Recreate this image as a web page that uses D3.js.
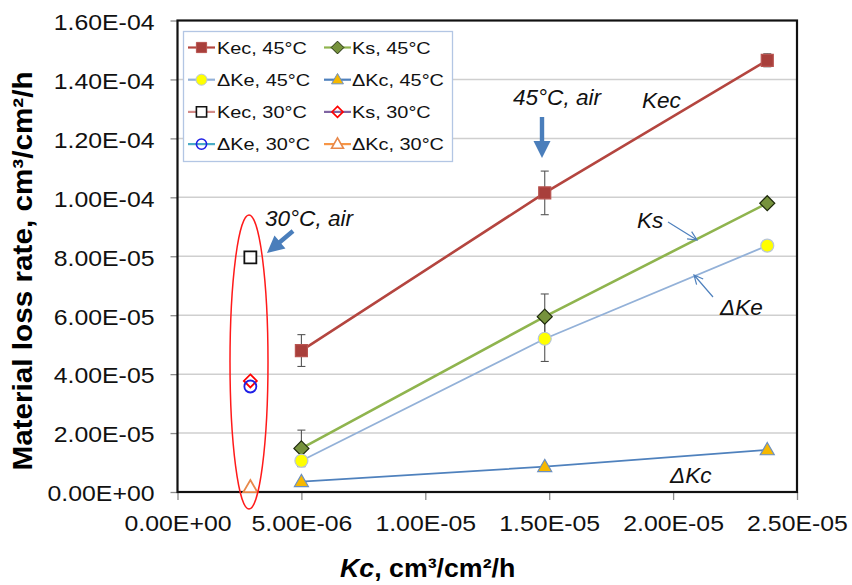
<!DOCTYPE html>
<html><head><meta charset="utf-8">
<script src="https://cdn.jsdelivr.net/npm/d3@7"></script>
<style>html,body{margin:0;padding:0;background:#fff}svg{display:block}text{font-family:"Liberation Sans",Arial,sans-serif}</style>
</head><body>
<svg id="chart" width="852" height="585"></svg>
<script>
// ---------- data ----------
const xTicks = [0, 5e-6, 1e-5, 1.5e-5, 2e-5, 2.5e-5];
const xTickLabels = ["0.00E+00","5.00E-06","1.00E-05","1.50E-05","2.00E-05","2.50E-05"];
const yTicks = [0, 2e-5, 4e-5, 6e-5, 8e-5, 1e-4, 1.2e-4, 1.4e-4, 1.6e-4];
const yTickLabels = ["0.00E+00","2.00E-05","4.00E-05","6.00E-05","8.00E-05","1.00E-04","1.20E-04","1.40E-04","1.60E-04"];

const kc45 = [5.0e-6, 1.482e-5, 2.38e-5];
const kec45 = [4.8e-5, 1.015e-4, 1.465e-4];
const kec45Err = [5.4e-6, 7.4e-6, 2.2e-6];
const ks45 = [1.48e-5, 5.95e-5, 9.8e-5];
const ks45Err = [6.2e-6, 7.7e-6, 0];
const dke45 = [1.06e-5, 5.2e-5, 8.36e-5];
const dke45Err = [0, 7.7e-6, 0];
const dkc45 = [3.5e-6, 8.6e-6, 1.43e-5];

const kc30 = [2.94e-6];
const kec30 = [7.96e-5];
const ks30 = [3.77e-5];
const dke30 = [3.58e-5];
const dkc30 = [1.6e-6];

const legendNames = ["Kec, 45°C","Ks, 45°C","ΔKe, 45°C","ΔKc, 45°C","Kec, 30°C","Ks, 30°C","ΔKe, 30°C","ΔKc, 30°C"];

// ---------- styles ----------
const series = [
  {name:legendNames[0], x:kc45, y:kec45, err:kec45Err, line:"#b4453f", lw:2.6, shape:"square", size:12, fill:"#a83f3b", stroke:"#b85450"},
  {name:legendNames[1], x:kc45, y:ks45, err:ks45Err, line:"#8fb44e", lw:2.6, shape:"diamond", size:15, fill:"#76923c", stroke:"#1e2a0c"},
  {name:legendNames[2], x:kc45, y:dke45, err:dke45Err, line:"#93b1d8", lw:1.8, shape:"circle", size:13, fill:"#ffff00", stroke:"#b8c6d9"},
  {name:legendNames[3], x:kc45, y:dkc45, err:null, line:"#4f81bd", lw:1.8, shape:"triangle", size:14, fill:"#f6b800", stroke:"#6b8fc0"},
  {name:legendNames[4], x:kc30, y:kec30, err:null, line:"#d38b88", lw:2, shape:"square", size:12, fill:"#ffffff", stroke:"#111111"},
  {name:legendNames[5], x:kc30, y:ks30, err:null, line:"#7f64a2", lw:2, shape:"diamond", size:13, fill:"none", stroke:"#ff0000"},
  {name:legendNames[6], x:kc30, y:dke30, err:null, line:"#4bacc6", lw:2, shape:"circle", size:12, fill:"none", stroke:"#1f1fe6"},
  {name:legendNames[7], x:kc30, y:dkc30, err:null, line:"#f79646", lw:2, shape:"triangle", size:14, fill:"#ffffff", stroke:"#e8884a"}
];

const svg = d3.select("#chart");
const L = 177.5, R = 797, T = 20.5, B = 492;
const x = d3.scaleLinear().domain([0, 2.5e-5]).range([L, R]);
const y = d3.scaleLinear().domain([0, 1.6e-4]).range([B, T]);

function txt(g, px, py, str, o) {
  o = o || {};
  const t = g.append("text")
    .attr("transform", `translate(${px},${py}) rotate(${o.rot||0}) scale(${o.sx||1},1)`)
    .attr("font-size", o.size || 16)
    .attr("font-weight", o.weight || "normal")
    .attr("font-style", o.style || "normal")
    .attr("text-anchor", o.anchor || "start")
    .attr("fill", o.fill || "#000");
  if (typeof str === "string") t.text(str);
  else str.forEach(p => t.append("tspan").attr("font-style", p.style || null).attr("font-weight", p.weight || null).text(p.t));
  return t;
}

function markerPath(shape, s) {
  const h = s / 2;
  if (shape === "square") return `M${-h},${-h}H${h}V${h}H${-h}Z`;
  if (shape === "diamond") return `M0,${-h}L${h},0L0,${h}L${-h},0Z`;
  if (shape === "triangle") { const th = s * 0.87; return `M0,${-th*0.6}L${h},${th*0.4}L${-h},${th*0.4}Z`; }
  return d3.path ? (() => { const p = d3.path(); p.arc(0, 0, h, 0, 2*Math.PI); p.closePath(); return p.toString(); })() : "";
}

// ---------- gridlines ----------
svg.append("g").selectAll("line").data(yTicks.slice(1, -1)).join("line")
  .attr("x1", L).attr("x2", R).attr("y1", d => y(d)).attr("y2", d => y(d))
  .attr("stroke", "#cfcfcf").attr("stroke-width", 1.5);

// ---------- axes ----------
const sxTick = 1.155, tickFont = 21.5;
const yAxis = svg.append("g").attr("transform", `translate(${L},0)`)
  .call(d3.axisLeft(y).tickValues(yTicks).tickFormat((d, i) => yTickLabels[i]).tickSize(7).tickSizeOuter(0));
const xAxis = svg.append("g").attr("transform", `translate(0,${B})`)
  .call(d3.axisBottom(x).tickValues(xTicks).tickFormat((d, i) => xTickLabels[i]).tickSize(8).tickSizeOuter(0));
[yAxis, xAxis].forEach(a => {
  a.select(".domain").remove();
  a.selectAll(".tick line").attr("stroke", "#8c8c8c").attr("stroke-width", 1.3);
  a.selectAll(".tick text").attr("font-size", tickFont).attr("fill", "#111")
    .attr("font-family", '"Liberation Sans",Arial,sans-serif');
});
yAxis.selectAll(".tick text").attr("x", -23 / sxTick).attr("dy", "0.41em").attr("transform", `scale(${sxTick},1)`);
xAxis.selectAll(".tick text").attr("y", 39).attr("dy", 0).attr("transform", `scale(${sxTick},1)`);

// plot border
svg.append("rect").attr("x", L).attr("y", T).attr("width", R - L).attr("height", B - T)
  .attr("fill", "none").attr("stroke", "#111").attr("stroke-width", 2.2);

// ---------- series ----------
const plot = svg.append("g");
series.forEach(s => {
  const pts = s.x.map((xv, i) => [xv, s.y[i], s.err ? s.err[i] : 0]);
  if (pts.length > 1) {
    plot.append("path").datum(pts)
      .attr("d", d3.line().x(d => x(d[0])).y(d => y(d[1])))
      .attr("fill", "none").attr("stroke", s.line).attr("stroke-width", s.lw);
  }
});
// error bars
series.forEach(s => {
  if (!s.err) return;
  s.x.forEach((xv, i) => {
    const e = s.err[i]; if (!e) return;
    const g = plot.append("g").attr("stroke", "#555").attr("stroke-width", 1.1);
    const cx = x(xv), y1 = y(s.y[i] + e), y2 = y(s.y[i] - e);
    g.append("line").attr("x1", cx).attr("x2", cx).attr("y1", y1).attr("y2", y2);
    g.append("line").attr("x1", cx - 4).attr("x2", cx + 4).attr("y1", y1).attr("y2", y1);
    g.append("line").attr("x1", cx - 4).attr("x2", cx + 4).attr("y1", y2).attr("y2", y2);
  });
});
// markers
series.forEach(s => {
  s.x.forEach((xv, i) => {
    plot.append("path").attr("d", markerPath(s.shape, s.size))
      .attr("transform", `translate(${x(xv)},${y(s.y[i])})`)
      .attr("fill", s.fill).attr("stroke", s.stroke).attr("stroke-width", s.fill === "none" || s.fill === "#ffffff" ? 1.8 : 1.2);
  });
});

// ---------- annotations ----------
const ann = svg.append("g");
ann.append("ellipse").attr("cx", 249).attr("cy", 362).attr("rx", 19).attr("ry", 147)
  .attr("fill", "none").attr("stroke", "#ff1a1a").attr("stroke-width", 1.5);

function thickArrow(x1, y1, x2, y2) {
  const dx = x2 - x1, dy = y2 - y1, len = Math.hypot(dx, dy);
  const a = Math.atan2(dy, dx) * 180 / Math.PI;
  const hl = 17, hw = 8.5, sw = 2.2;
  ann.append("path")
    .attr("d", `M0,${-sw}L${len-hl},${-sw}L${len-hl},${-hw}L${len},0L${len-hl},${hw}L${len-hl},${sw}L0,${sw}Z`)
    .attr("transform", `translate(${x1},${y1}) rotate(${a})`)
    .attr("fill", "#4a7ebb");
}
function thinArrow(x1, y1, x2, y2) {
  const a = Math.atan2(y2 - y1, x2 - x1);
  const hl = 10, ha = 0.45;
  const p = `M${x1},${y1}L${x2},${y2}M${x2 - hl*Math.cos(a-ha)},${y2 - hl*Math.sin(a-ha)}L${x2},${y2}L${x2 - hl*Math.cos(a+ha)},${y2 - hl*Math.sin(a+ha)}`;
  ann.append("path").attr("d", p).attr("fill", "none").attr("stroke", "#4f81bd").attr("stroke-width", 1.2);
}
thickArrow(542, 117, 542, 158);
thickArrow(293, 231, 267, 253);
thinArrow(668, 222, 697, 240);
thinArrow(713, 297, 694, 275);

const annOpt = {size: 21.5, style: "italic", sx: 1.05, fill: "#111"};
txt(ann, 513, 105, "45°C, air", annOpt);
txt(ann, 265, 226, "30°C, air", annOpt);
txt(ann, 642, 108, "Kec", annOpt);
txt(ann, 637, 228, "Ks", annOpt);
txt(ann, 720, 315, "ΔKe", annOpt);
txt(ann, 670, 483, "ΔKc", annOpt);

// ---------- legend ----------
const lg = svg.append("g");
lg.append("rect").attr("x", 183.5).attr("y", 31.5).attr("width", 269).attr("height", 130)
  .attr("fill", "#fff").attr("stroke", "#b3c6e4").attr("stroke-width", 1.3);
const colSym = [188, 324], colTxt = [217, 352];
series.forEach((s, i) => {
  const col = i % 2, row = Math.floor(i / 2);
  const cy = 47.5 + row * 32.2;
  lg.append("line").attr("x1", colSym[col]).attr("x2", colSym[col] + 27).attr("y1", cy).attr("y2", cy)
    .attr("stroke", s.line).attr("stroke-width", 2.2);
  lg.append("path").attr("d", markerPath(s.shape, s.size * 0.85))
    .attr("transform", `translate(${colSym[col] + 13.5},${cy})`)
    .attr("fill", s.fill).attr("stroke", s.stroke).attr("stroke-width", s.fill === "none" || s.fill === "#ffffff" ? 1.6 : 1);
  txt(lg, colTxt[col], cy + 6.3, s.name, {size: 17, sx: 1.17, fill: "#111"});
});

// ---------- axis titles ----------
txt(svg, 340, 577, [{t: "Kc", style: "italic"}, {t: ", cm³/cm²/h"}], {size: 25, weight: "bold", sx: 1.07});
txt(svg, 32, 271, "Material loss rate, cm³/cm²/h", {size: 28, weight: "bold", sx: 1.06, rot: -90, anchor: "middle"});
</script>
</body></html>
